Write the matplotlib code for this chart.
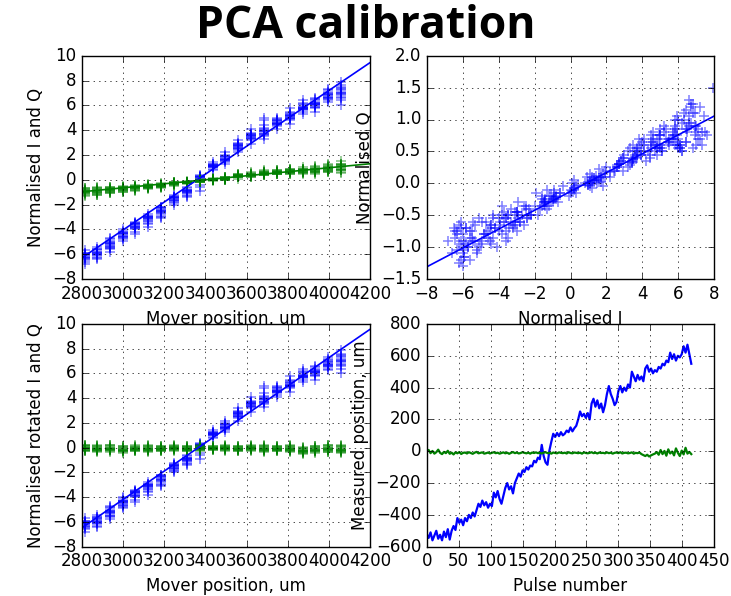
import numpy as np
import matplotlib
matplotlib.use('Agg')
import matplotlib.pyplot as plt

# ---------------- data ----------------
mover_um = [2815, 2875, 2935, 2998, 3060, 3122, 3185, 3247, 3310, 3372, 3435,
            3497, 3560, 3622, 3685, 3748, 3810, 3872, 3935, 3997, 4060]

I_clusters = [
    [-6.1, -6.3, -5.9, -6.5, -6.2, -6.0, -6.4, -5.7, -6.2, -6.6, -6.1, -5.9, -6.3, -6.0, -6.8],
    [-5.8, -6.0, -5.6, -6.2, -5.9, -6.4, -5.7, -6.1, -5.9, -5.4, -6.0, -6.3, -5.8, -6.1, -5.6],
    [-5.1, -5.3, -4.9, -5.5, -5.2, -4.7, -5.4, -5.0, -5.8, -5.2, -5.5, -5.1, -4.8, -5.3, -5.6],
    [-4.3, -4.5, -4.2, -4.7, -4.4, -4.0, -4.6, -4.3, -4.8, -4.4, -4.1, -4.5, -4.9, -4.3, -4.6],
    [-3.6, -3.8, -3.5, -3.9, -3.7, -3.4, -4.0, -3.6, -4.4, -3.7, -3.5, -3.8, -4.2, -3.6, -3.9],
    [-3.0, -3.2, -2.9, -3.3, -3.1, -2.8, -3.5, -3.0, -3.8, -3.1, -2.9, -3.2, -3.6, -3.0, -3.3],
    [-2.4, -2.6, -2.3, -2.8, -2.5, -2.2, -2.9, -2.4, -3.1, -2.6, -2.3, -2.7, -3.0, -2.5, -2.2],
    [-1.5, -1.6, -1.4, -1.7, -1.5, -1.2, -1.8, -1.4, -2.0, -1.6, -1.3, -1.5, -1.9, -1.4, -1.6],
    [-0.9, -1.0, -0.8, -1.1, -0.9, -0.6, -1.2, -0.8, -1.4, -0.9, -0.7, -1.0, -1.3, -0.8, -1.1],
    [0.2, 0.1, 0.3, 0.0, 0.2, 0.4, -0.1, 0.2, -0.6, 0.1, 0.3, -0.9, 0.2, 0.0, -0.4],
    [1.1, 1.2, 1.0, 1.3, 1.1, 0.9, 1.2, 1.0, 1.4, 1.1, 1.2, 0.8, 1.1, 1.3, 1.0],
    [1.7, 1.8, 1.6, 1.9, 1.7, 1.5, 2.0, 1.6, 2.2, 1.7, 1.4, 1.8, 1.6, 1.9, 1.3],
    [2.7, 2.8, 2.6, 2.9, 2.7, 2.5, 3.0, 2.6, 3.2, 2.7, 2.4, 2.8, 2.2, 2.9, 2.6],
    [3.5, 3.6, 3.4, 3.7, 3.5, 3.3, 3.8, 3.4, 4.1, 3.5, 3.2, 3.6, 2.9, 3.7, 3.4],
    [3.9, 4.0, 3.7, 4.2, 3.9, 3.6, 4.4, 3.8, 4.8, 3.9, 3.5, 4.1, 5.0, 3.7, 3.3],
    [4.6, 4.7, 4.5, 4.8, 4.6, 4.4, 4.9, 4.5, 5.0, 4.6, 4.3, 4.7, 4.1, 4.8, 4.5],
    [5.1, 5.2, 5.0, 5.3, 5.1, 4.9, 5.5, 5.0, 5.8, 5.1, 4.8, 5.2, 4.5, 5.4, 5.0],
    [5.8, 5.9, 5.7, 6.0, 5.8, 5.6, 6.2, 5.7, 6.4, 5.8, 5.5, 5.9, 5.3, 6.1, 5.7],
    [6.1, 6.2, 6.0, 6.4, 6.1, 5.9, 6.5, 6.0, 6.6, 6.2, 5.8, 6.3, 5.5, 6.1, 5.9],
    [6.8, 6.9, 6.6, 7.0, 6.7, 6.5, 7.2, 6.6, 7.3, 6.8, 6.4, 6.9, 6.3, 7.1, 6.7],
    [7.0, 7.2, 6.8, 7.4, 7.0, 6.6, 7.6, 6.9, 7.9, 7.1, 6.4, 7.3, 6.0, 7.5, 6.7],
]

Q_clusters = [
    [-1.2, -0.8, -1.05, -0.7, -0.95, -1.3, -0.85, -1.0, -0.65, -1.1, -0.9, -1.15, -0.75, -1.0, -0.9],
    [-0.7, -1.1, -0.85, -1.25, -0.9, -0.75, -1.0, -0.6, -1.15, -0.9, -0.8, -1.05, -0.95, -0.7, -1.2],
    [-1.0, -0.65, -0.9, -0.75, -1.1, -0.8, -0.6, -0.95, -0.7, -1.05, -0.85, -0.55, -0.8, -0.9, -0.75],
    [-0.55, -0.9, -0.7, -0.6, -0.95, -0.75, -0.85, -0.5, -0.8, -0.65, -1.0, -0.7, -0.6, -0.85, -0.75],
    [-0.75, -0.5, -0.85, -0.6, -0.45, -0.7, -0.55, -0.9, -0.65, -0.6, -0.5, -0.8, -0.7, -0.55, -0.65],
    [-0.45, -0.7, -0.55, -0.4, -0.65, -0.6, -0.5, -0.75, -0.35, -0.6, -0.5, -0.65, -0.55, -0.45, -0.6],
    [-0.55, -0.35, -0.5, -0.6, -0.4, -0.5, -0.3, -0.55, -0.45, -0.65, -0.4, -0.5, -0.45, -0.35, -0.5],
    [-0.3, -0.35, -0.25, -0.4, -0.33, -0.2, -0.5, -0.3, -0.35, -0.2, -0.4, -0.3, -0.15, -0.35, -0.25],
    [-0.22, -0.27, -0.2, -0.3, -0.24, -0.15, -0.35, -0.22, -0.28, -0.15, -0.3, -0.24, -0.1, -0.25, -0.2],
    [-0.08, -0.12, -0.05, -0.15, -0.1, -0.02, -0.2, -0.08, -0.15, 0.0, -0.15, -0.1, 0.05, -0.1, -0.05],
    [0.0, 0.05, -0.03, 0.08, 0.0, 0.1, -0.08, 0.02, 0.05, -0.05, 0.1, 0.0, 0.15, 0.03, -0.02],
    [0.1, 0.15, 0.05, 0.2, 0.1, 0.0, 0.25, 0.08, 0.18, 0.02, 0.12, -0.05, 0.22, 0.1, 0.05],
    [0.3, 0.35, 0.25, 0.4, 0.3, 0.2, 0.45, 0.28, 0.5, 0.3, 0.2, 0.35, 0.1, 0.4, 0.25],
    [0.38, 0.42, 0.33, 0.48, 0.38, 0.28, 0.55, 0.35, 0.6, 0.4, 0.25, 0.45, 0.2, 0.5, 0.32],
    [0.45, 0.65, 0.55, 0.35, 0.6, 0.5, 0.4, 0.7, 0.55, 0.45, 0.6, 0.5, 0.75, 0.4, 0.55],
    [0.7, 0.5, 0.65, 0.55, 0.8, 0.45, 0.6, 0.75, 0.55, 0.65, 0.5, 0.6, 0.7, 0.45, 0.6],
    [0.55, 0.8, 0.6, 0.7, 0.5, 0.75, 0.65, 0.85, 0.6, 0.5, 0.7, 0.9, 0.55, 0.65, 0.75],
    [0.85, 0.6, 0.75, 0.55, 0.9, 0.7, 0.5, 0.8, 0.65, 1.0, 0.6, 0.75, 0.85, 0.55, 0.7],
    [0.6, 0.95, 0.7, 0.85, 0.55, 1.05, 0.8, 0.65, 0.9, 0.5, 0.75, 1.1, 0.7, 0.6, 0.85],
    [1.1, 0.75, 0.95, 0.6, 1.2, 0.85, 0.7, 1.05, 0.8, 1.25, 0.65, 0.9, 1.0, 0.7, 0.95],
    [0.8, 1.2, 0.55, 1.05, 0.9, 1.3, 0.75, 1.1, 1.5, 0.85, 1.15, 0.6, 1.0, 0.8, 1.25],
]

rotQ_clusters = [
    [-0.05, 0.05, -0.15, 0.15, -0.05, -0.2, 0.2, -0.1, 0.1, -0.25, 0.0, -0.15, 0.25, -0.05, -0.3],
    [-0.1, 0.0, -0.2, 0.1, -0.1, -0.25, 0.15, -0.15, 0.05, -0.3, -0.05, -0.2, 0.2, -0.1, -0.35],
    [-0.1, -0.02, -0.18, 0.12, -0.08, -0.22, 0.18, -0.14, 0.04, -0.3, -0.06, -0.2, 0.22, -0.1, -0.32],
    [-0.15, -0.05, -0.25, 0.05, -0.15, -0.3, 0.1, -0.2, 0.0, -0.35, -0.1, -0.25, 0.15, -0.15, -0.4],
    [-0.1, -0.02, -0.18, 0.08, -0.1, -0.22, 0.12, -0.14, 0.04, -0.28, -0.06, -0.2, 0.18, -0.1, -0.3],
    [-0.1, 0.0, -0.2, 0.1, -0.12, -0.24, 0.14, -0.16, 0.06, -0.28, -0.04, -0.2, 0.2, -0.08, -0.32],
    [-0.1, -0.04, -0.16, 0.06, -0.1, -0.2, 0.1, -0.12, 0.02, -0.26, -0.06, -0.18, 0.14, -0.1, -0.28],
    [-0.05, 0.02, -0.12, 0.1, -0.05, -0.16, 0.14, -0.08, 0.06, -0.2, 0.0, -0.12, 0.18, -0.05, -0.24],
    [-0.1, -0.02, -0.18, 0.08, -0.1, -0.22, 0.12, -0.14, 0.04, -0.28, -0.06, -0.2, 0.16, -0.1, -0.3],
    [-0.05, 0.02, -0.12, 0.1, -0.05, -0.18, 0.14, -0.08, 0.06, -0.22, 0.0, -0.12, 0.2, -0.05, -0.26],
    [-0.05, 0.0, -0.1, 0.08, -0.05, -0.14, 0.12, -0.08, 0.04, -0.18, 0.0, -0.1, 0.16, -0.05, -0.2],
    [-0.05, 0.02, -0.12, 0.1, -0.05, -0.16, 0.14, -0.08, 0.06, -0.2, 0.0, -0.12, 0.18, -0.05, -0.24],
    [-0.1, -0.02, -0.18, 0.08, -0.1, -0.22, 0.12, -0.14, 0.04, -0.28, -0.06, -0.2, 0.16, -0.1, -0.3],
    [-0.05, 0.02, -0.12, 0.1, -0.05, -0.16, 0.14, -0.08, 0.06, -0.2, 0.0, -0.12, 0.18, -0.05, -0.24],
    [-0.1, 0.0, -0.2, 0.1, -0.1, -0.25, 0.15, -0.15, 0.05, -0.3, -0.05, -0.2, 0.2, -0.1, -0.35],
    [-0.1, -0.02, -0.18, 0.08, -0.1, -0.22, 0.12, -0.14, 0.04, -0.28, -0.06, -0.2, 0.16, -0.1, -0.3],
    [-0.1, 0.0, -0.2, 0.1, -0.12, -0.24, 0.14, -0.16, 0.06, -0.28, -0.04, -0.2, 0.2, -0.08, -0.32],
    [-0.25, -0.15, -0.35, -0.05, -0.25, -0.4, 0.0, -0.3, -0.1, -0.45, -0.2, -0.35, 0.05, -0.25, -0.5],
    [-0.15, -0.05, -0.25, 0.05, -0.15, -0.3, 0.1, -0.2, 0.0, -0.35, -0.1, -0.25, 0.15, -0.15, -0.4],
    [-0.1, 0.0, -0.2, 0.12, -0.1, -0.26, 0.18, -0.15, 0.06, -0.32, -0.04, -0.22, 0.24, -0.1, -0.36],
    [-0.15, -0.03, -0.27, 0.1, -0.15, -0.32, 0.16, -0.2, 0.04, -0.38, -0.08, -0.26, 0.22, -0.15, -0.42],
]

# straight-line fits (end points)
fit_um = [2800, 4200]
fit_I = [-6.29, 9.44]
fit_Q = [-0.97, 1.29]
fit_rotI = [-6.47, 9.57]
fit_IQ_I = [-8, 8]
fit_IQ_Q = [-1.31, 1.055]

# pulse-by-pulse measured position (every 3rd pulse)
pulse_step = 3
meas_I_um = [
    -520, -545, -510, -560, -530, -500, -550, -525, -560, -505, -540, -490, -555, -500, -470,
    -495, -420, -450, -430, -465, -420, -440, -400, -420, -385, -410, -370, -330, -350, -310,
    -340, -320, -355, -330, -345, -260, -290, -250, -300, -330, -280, -230, -200, -240, -220,
    -265, -200, -170, -140, -160, -120, -130, -100, -115, -90, -95, -60, -70, -40, -50,
    40, -30, -70, -85, 5, 60, 110, 90, 115, 95, 120, 100, 110, 130, 120,
    150, 125, 145, 160, 200, 250, 220, 235, 210, 240, 200, 300, 330, 280, 320,
    270, 300, 245, 290, 360, 410, 360, 330, 290, 310, 380, 410, 370, 400, 380,
    420, 400, 500, 470, 440, 480, 450, 470, 440, 520, 540, 500, 520, 490, 510,
    500, 530, 520, 550, 540, 570, 560, 620, 580, 610, 570, 600, 590, 610, 660,
    620, 670, 610, 550,
]
meas_Q_um = [
    -5, 8, -12, 2, -15, -6, 10, -10, -18, -4, -12, 3, -16, -9, -20, -7, -13, -5, -17, -10,
    -8, -14, -6, -11, -16, -9, -4, -13, -10, -7, -15, -12, -8, -14, -10, -6, -12, -9, -15, -11,
    -7, -13, -9, -16, -10, -5, -12, -8, -14, -11, -6, -10, -13, -9, -15, -8, -11, -7, -12, -10,
    -14, -9, -6, -12, -10, -15, -8, -11, -13, -7, -10, -12, -9, -14, -6, -11, -13, -8, -10, -12,
    -9, -15, -7, -11, -13, -10, -6, -12, -9, -14, -8, -11, -10, -13, -7, -12, -9, -15, -10, -8,
    -12, -6, -14, -10, -9, -13, -11, -7, -15, -10, -12, -8, -18, -24, -30, -22, -33, -26, -20, -15,
    -5, -22, 8, -18, 2, -28, 12, -14, -2, -26, 18, -10, -30, 4, -20, 22, -15, -4, -18,
]

# ---------------- styling ----------------
plt.style.use('classic')
plt.rcParams['font.family'] = ['DejaVu Sans']
plt.rcParams['font.size'] = 12

n_per = len(I_clusters[0])
x_pts = np.repeat(mover_um, n_per)
I_pts = np.concatenate(I_clusters)
Q_pts = np.concatenate(Q_clusters)
rotQ_pts = np.concatenate(rotQ_clusters)
pulses = np.arange(len(meas_I_um)) * pulse_step

fig = plt.figure(figsize=(7.31, 5.96), dpi=100, facecolor='white')

W, H = 731.0, 596.0
def rect(l, r, t, b):
    return [l / W, 1 - b / H, (r - l) / W, (b - t) / H]

mk = dict(linestyle='none', marker='+', markersize=7.5, markeredgewidth=1.1, alpha=0.5)

# top-left
ax1 = fig.add_axes(rect(82, 370, 55.7, 279))
ax1.plot(x_pts, I_pts, color='b', **mk)
ax1.plot(x_pts, Q_pts, color='g', **mk)
ax1.plot(fit_um, fit_I, color='b', lw=1.2)
ax1.plot(fit_um, fit_Q, color='g', lw=1.2)
ax1.set_xlim(2800, 4200)
ax1.set_ylim(-8, 10)
ax1.set_xticks(np.arange(2800, 4201, 200))
ax1.set_yticks(np.arange(-8, 11, 2))
ax1.set_xlabel('Mover position, um')
ax1.set_ylabel('Normalised I and Q')
ax1.grid(True)

# top-right
ax2 = fig.add_axes(rect(426.7, 714.3, 55.7, 279))
ax2.plot(I_pts, Q_pts, color='b', **mk)
ax2.plot(fit_IQ_I, fit_IQ_Q, color='b', lw=1.2)
ax2.set_xlim(-8, 8)
ax2.set_ylim(-1.5, 2.0)
ax2.set_xticks(np.arange(-8, 9, 2))
ax2.set_yticks(np.arange(-1.5, 2.01, 0.5))
ax2.set_xlabel('Normalised I')
ax2.set_ylabel('Normalised Q')
ax2.grid(True)

# bottom-left
ax3 = fig.add_axes(rect(82, 370, 324, 546.7))
ax3.plot(x_pts, I_pts, color='b', **mk)
ax3.plot(x_pts, rotQ_pts, color='g', **mk)
ax3.plot(fit_um, fit_rotI, color='b', lw=1.2)
ax3.set_xlim(2800, 4200)
ax3.set_ylim(-8, 10)
ax3.set_xticks(np.arange(2800, 4201, 200))
ax3.set_yticks(np.arange(-8, 11, 2))
ax3.set_xlabel('Mover position, um')
ax3.set_ylabel('Normalised rotated I and Q')
ax3.grid(True)

# bottom-right
ax4 = fig.add_axes(rect(426.7, 714.3, 324, 546.7))
ax4.plot(pulses, meas_I_um, color='b', lw=1.6)
ax4.plot(pulses, meas_Q_um, color='g', lw=1.6)
ax4.set_xlim(0, 450)
ax4.set_ylim(-600, 800)
ax4.set_xticks(np.arange(0, 451, 50))
ax4.set_yticks(np.arange(-600, 801, 200))
ax4.set_xlabel('Pulse number')
ax4.set_ylabel('Measured position, um')
ax4.grid(True)

fig.text(0.5, 1 - 27 / H, 'PCA calibration', ha='center', va='center',
         fontsize=32, fontweight='bold', family=['Open Sans', 'DejaVu Sans'])

fig.savefig('out.png', dpi=100, facecolor='white')
